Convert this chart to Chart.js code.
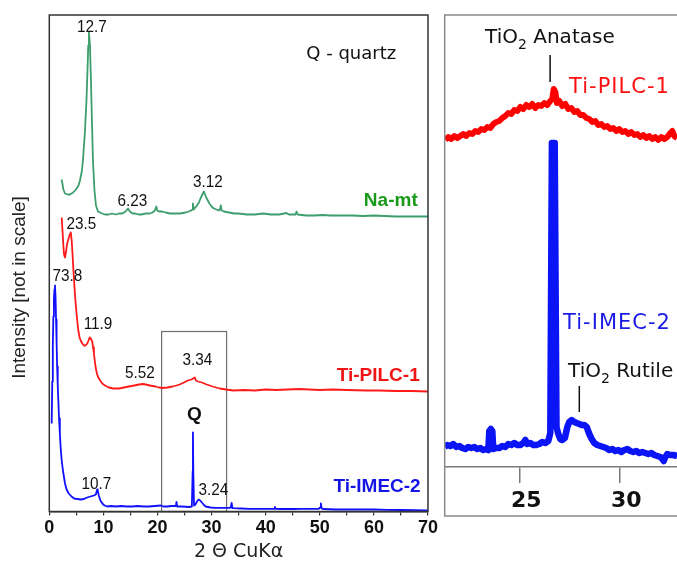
<!DOCTYPE html>
<html>
<head>
<meta charset="utf-8">
<script src="https://cdn.jsdelivr.net/npm/chart.js@4/dist/chart.umd.min.js"></script>
<style>
  html, body { margin: 0; padding: 0; background: #fff; overflow: hidden; }
  #wrap { position: relative; width: 677px; height: 563px; }
  #xrdFull { position: absolute; left: 0; top: 0; }
  #xrdZoom { position: absolute; left: 440px; top: 0; }
</style>
</head>
<body>
<div id="wrap">
  <canvas id="xrdFull" width="440" height="563"></canvas>
  <canvas id="xrdZoom" width="237" height="563"></canvas>
</div>
<script>
// ---- Full-range patterns (2θ in degrees, stacked intensity in arbitrary units) ----
const naMtTheta = [2.29,2.6,2.9,3.4,3.82,4.4,4.93,5.4,5.67,6.0,6.22,6.6,6.87,7.06,7.2,7.33,7.52,7.7,7.88,8.07,8.35,8.63,9.0,9.4,9.75,10.3,11.0,11.6,12.3,12.9,13.5,14.1,14.55,14.9,15.4,15.9,16.5,17.0,17.8,18.5,19.1,19.5,19.78,19.95,20.3,20.9,21.5,22.3,23.3,24.2,25.2,25.8,26.2,26.45,26.55,26.7,27.0,27.3,27.65,27.95,28.3,28.57,28.8,29.0,29.3,29.6,30.0,30.4,30.9,31.3,31.55,31.7,31.85,32.3,33.2,34.2,35.0,36.5,38.0,39.5,41.0,42.5,43.85,44.3,45.5,45.7,45.9,47.5,49.0,50.5,52.0,54.0,56.0,58.0,60.0,62.0,64.0,66.0,68.0,70.0];
const naMtInt = [332,322,318,317,317,319,322,326,331,340,351,381,411,441,466,479,466,431,391,351,321,306,300,299,298,297,297,298,297,298,298,300,303,300,298,298,297,297,298,298,299,301,305,301,300,300,299,298,298,298,299,300,301,302,308,302,304,306,309,313,317,320,317,314,311,308,305,303,302,301,302,306,301,300,299,298,298,297,297,298,297,297,298.5,297,297,300,297,296,296,296.5,296,296,296,295.5,296,295.5,295,295,295,295];

const pilcTheta = [2.29,2.45,2.6,2.72,2.9,3.1,3.3,3.62,3.85,3.98,4.15,4.3,4.45,4.61,4.8,4.99,5.2,5.36,5.6,5.8,6.1,6.41,6.7,7.02,7.25,7.46,7.65,7.94,8.1,8.25,8.4,8.57,8.8,9.05,9.4,9.78,10.3,11.0,11.8,12.9,13.8,14.7,15.7,16.6,17.3,17.8,18.6,19.6,20.3,20.9,21.8,22.8,23.5,24.1,24.9,25.6,26.3,26.6,26.9,27.1,27.5,28.2,29.1,30.2,31.5,32.7,34.0,36.0,38.0,40.0,42.0,44.0,46.3,48.0,50.0,52.4,55.0,58.6,61.0,64.0,67.0,70.0];
const pilcInt = [294,280,266,257,254,260,268,274,278,279,270,257,242,228,213,201,189,181,174,171,168,166,166,168,171,174,173,170,164,158,151,144,138,134,131,128,126,124,123,123,124,125,126,127,127.5,127,126,125,124,123.5,124,125,126,127,129,131,132,133,134,131,130,129,127,125,123,122,121,121.5,121,122,121.5,122,122.5,122,121.5,122,121.5,121,121,120.5,120.5,120];

const imecTheta = [0.44,0.55,0.65,0.75,0.85,0.95,1.05,1.15,1.25,1.35,1.45,1.56,1.67,1.8,1.95,2.1,2.29,2.55,2.9,3.2,3.6,4.1,4.6,5.2,5.8,6.4,7.0,7.6,8.25,8.6,8.85,8.95,9.15,9.45,9.8,10.2,10.7,11.5,12.3,13.3,14.3,15.3,16.3,17.4,18.4,19.5,20.6,21.1,21.8,22.6,23.4,23.5,23.65,24.5,25.8,26.35,26.5,26.55,26.62,26.75,27.0,27.3,27.6,27.9,28.2,28.6,28.9,29.8,30.7,31.8,33.2,33.55,33.7,33.85,34.1,35.5,36.9,39.0,41.0,41.6,41.7,41.85,43.0,45.0,46.5,48.0,49.8,50.05,50.2,50.35,50.6,53.0,55.0,57.5,60.0,62.5,65.0,67.5,70.0];
const imecInt = [88,130,165,195,212,222,226,215,192,168,145,126,111,93,78,64,51,40,28,22,18,15,13,12.5,12,12.5,14,15,16,17,22,21,16,11,8,6,5,5.5,5,5.5,5,5,5.5,5,5,5.5,6,5,5,5.5,5.5,9.5,5,5,4.5,5,40,79,40,6,7,10,12,11,9,6.5,5,4,3.7,3.7,3.7,4,8.5,3.5,3.3,3,2.7,2.7,2.7,2.7,4.5,2.7,2.5,2.5,2.7,2.6,2.7,4,8,3,2.5,2,2,2,2,1.7,1.5,1.3,1];

// ---- Expanded 21–33° window ----
const zoomPilcTheta = [21.30,21.45,21.60,21.75,21.90,22.05,22.20,22.35,22.50,22.65,22.80,22.95,23.10,23.25,23.40,23.55,23.70,23.85,24.00,24.15,24.30,24.45,24.60,24.75,24.90,25.05,25.20,25.35,25.50,25.65,25.80,25.95,26.10,26.25,26.40,26.55,26.65,26.72,26.80,26.88,27.00,27.15,27.30,27.45,27.60,27.75,27.90,28.05,28.20,28.35,28.50,28.65,28.80,28.95,29.10,29.25,29.40,29.55,29.70,29.85,30.00,30.15,30.30,30.45,30.60,30.75,30.90,31.05,31.20,31.35,31.50,31.65,31.80,31.95,32.10,32.25,32.40,32.55,32.65,32.75,32.89];
const zoomPilcInt = [327,330,328,331,329,331,333,331,334,333,336,335,338,337,340,339,343,345,346,349,351,354,353,357,356,360,358,362,360,363,359,362,361,364,362,366,368,378,375,364,366,361,363,358,359,355,356,352,352,349,348,345,346,342,343,340,341,338,339,336,338,335,336,333,335,332,333,330,332,329,331,328,330,327,330,328,330,334,336,331,329];

const zoomImecTheta = [21.27,21.40,21.55,21.70,21.85,22.00,22.15,22.30,22.45,22.60,22.75,22.90,23.05,23.20,23.35,23.45,23.50,23.58,23.65,23.70,23.85,24.00,24.15,24.30,24.45,24.60,24.75,24.90,25.05,25.20,25.30,25.40,25.55,25.70,25.85,26.00,26.15,26.30,26.45,26.55,26.63,26.77,26.86,26.95,27.05,27.15,27.28,27.40,27.50,27.62,27.75,27.87,28.00,28.12,28.25,28.37,28.50,28.62,28.75,28.90,29.05,29.20,29.35,29.50,29.65,29.80,29.95,30.10,30.25,30.40,30.55,30.70,30.85,31.00,31.15,31.30,31.45,31.60,31.75,31.90,32.05,32.15,32.22,32.30,32.40,32.55,32.70,32.89];
const zoomImecInt = [20,22,21,23,20,21,19,18,20,19,20,18,19,17,18,17,36,38,36,18,19,19,21,20,23,22,24,22,22,24,27,23,24,22,22,23,25,24,26,34,324,324,40,33,28,27,29,40,45,47,45,44,43,42,42,40,33,28,24,22,21,20,19,17,18,16,17,15,17,18,16,15,16,14,15,14,13,14,12,11,10,8,6,10,13,12,12,11];

// ---- Axis ticks ----
const fullTicks = [0,5,10,15,20,25,30,35,40,45,50,55,60,65,70];
const fullTickLabels = ['0','','10','','20','','30','','40','','50','','60','','70'];
const zoomTicks = [25, 30];
const zoomTickLabels = ['25', '30'];

// window of the expanded view, marked as a box on the full pattern
const zoomWindow = [20.76, 32.77];
const zoomBoxTop = 180;

const SANS = '"Liberation Sans", Arial, sans-serif';
const VERD = '"DejaVu Sans", Verdana, sans-serif';

function toPairs(xs, ys) { return xs.map((v, i) => ({ x: v, y: ys[i] })); }

// peak d-spacings and sample names on the full pattern
const fullLabels = [
  { text: '12.7', at: [7.89, 484], font: '17px ' + SANS, color: '#111', squeeze: 0.9 },
  { text: '6.23', at: [15.37, 310], font: '17px ' + SANS, color: '#111', squeeze: 0.9 },
  { text: '3.12', at: [29.31, 329], font: '17px ' + SANS, color: '#111', squeeze: 0.9 },
  { text: '23.5', at: [5.95, 287], font: '17px ' + SANS, color: '#111', squeeze: 0.9 },
  { text: '73.8', at: [3.36, 235], font: '17px ' + SANS, color: '#111', squeeze: 0.9 },
  { text: '11.9', at: [9.0, 187], font: '17px ' + SANS, color: '#111', squeeze: 0.9 },
  { text: '5.52', at: [16.75, 138], font: '17px ' + SANS, color: '#111', squeeze: 0.9 },
  { text: '3.34', at: [27.37, 151], font: '17px ' + SANS, color: '#111', squeeze: 0.9 },
  { text: '10.7', at: [8.72, 27], font: '17px ' + SANS, color: '#111', squeeze: 0.9 },
  { text: '3.24', at: [30.33, 21.5], font: '17px ' + SANS, color: '#111', squeeze: 0.9 },
  { text: 'Q', at: [26.82, 97], font: 'bold 19px ' + SANS, color: '#111' },
  { text: 'Q - quartz', at: [55.82, 457.5], font: '18px ' + VERD, color: '#111' },
  { text: 'Na-mt', at: [68.1, 311], font: 'bold 19px ' + SANS, color: '#1a9a1a', align: 'right' },
  { text: 'Ti-PILC-1', at: [68.47, 136], font: 'bold 19px ' + SANS, color: '#f01414', align: 'right' },
  { text: 'Ti-IMEC-2', at: [68.65, 25], font: 'bold 19px ' + SANS, color: '#1414e6', align: 'right' }
];

const fullDecor = {
  id: 'fullDecor',
  beforeDatasetsDraw(chart) {
    const { ctx, scales: { x, y } } = chart;
    const x0 = x.getPixelForValue(zoomWindow[0]);
    const x1 = x.getPixelForValue(zoomWindow[1]);
    const yt = y.getPixelForValue(zoomBoxTop);
    const yb = y.getPixelForValue(0);
    ctx.save();
    ctx.strokeStyle = '#6e6e6e';
    ctx.lineWidth = 1.2;
    ctx.strokeRect(x0, yt, x1 - x0, yb - yt);
    ctx.restore();
  },
  afterDraw(chart) {
    const { ctx, chartArea: a, scales: { x, y } } = chart;
    ctx.save();
    ctx.strokeStyle = '#333';
    ctx.lineWidth = 1.5;
    ctx.strokeRect(a.left, a.top, a.right - a.left, a.bottom - a.top);

    ctx.textBaseline = 'middle';
    for (const L of fullLabels) {
      ctx.font = L.font;
      ctx.fillStyle = L.color;
      ctx.textAlign = L.align || 'center';
      const px = x.getPixelForValue(L.at[0]);
      const py = y.getPixelForValue(L.at[1]);
      if (L.squeeze) {
        ctx.fillText(L.text, px, py, ctx.measureText(L.text).width * L.squeeze);
      } else {
        ctx.fillText(L.text, px, py);
      }
    }

    // axis titles
    ctx.fillStyle = '#222';
    ctx.textAlign = 'center';
    ctx.font = '19px ' + VERD;
    ctx.fillText('2 \u0398 CuK\u03b1', (a.left + a.right) / 2, a.bottom + 41);

    ctx.save();
    ctx.translate(20, a.bottom - 224);
    ctx.rotate(-Math.PI / 2);
    ctx.font = '19px ' + SANS;
    ctx.fillText('Intensity [not in scale]', 0, 0);
    ctx.restore();
    ctx.restore();
  }
};

new Chart(document.getElementById('xrdFull'), {
  type: 'line',
  data: {
    datasets: [
      { label: 'Na-mt', data: toPairs(naMtTheta, naMtInt), borderColor: '#3c9e6c', borderWidth: 1.8 },
      { label: 'Ti-PILC-1', data: toPairs(pilcTheta, pilcInt), borderColor: '#ff1a1a', borderWidth: 1.8 },
      { label: 'Ti-IMEC-2', data: toPairs(imecTheta, imecInt), borderColor: '#1010ff', borderWidth: 1.8 }
    ]
  },
  options: {
    responsive: false,
    animation: false,
    devicePixelRatio: 1,
    layout: { padding: { left: 49.3, right: 12, top: 15, bottom: 0 } },
    elements: { point: { radius: 0 }, line: { tension: 0, borderJoinStyle: 'round' } },
    plugins: { legend: { display: false }, tooltip: { enabled: false } },
    scales: {
      x: {
        type: 'linear', min: 0, max: 70,
        afterBuildTicks: s => { s.ticks = fullTicks.map(v => ({ value: v })); },
        afterFit: s => { s.height = 51.5; },
        ticks: {
          autoSkip: false, maxRotation: 0, padding: 2,
          color: '#111', font: { family: SANS, size: 18, weight: 'bold' },
          callback: (v, i) => fullTickLabels[i]
        },
        grid: { drawOnChartArea: false, drawTicks: true, tickLength: 4, color: '#333', lineWidth: 1.2 },
        border: { display: true, color: '#333', width: 1.5 }
      },
      y: { type: 'linear', min: 0, max: 496.5, display: false }
    }
  },
  plugins: [fullDecor]
});

// ---- Expanded view annotations ----
const zoomLabels = [
  { parts: [['TiO', 0], ['2', 1], [' Anatase', 0]], at: [23.29, 424.3], size: 20, color: '#111' },
  { parts: [['Ti-PILC-1', 0]], at: [27.49, 374], size: 21, color: '#ff1010', spacing: 1 },
  { parts: [['Ti-IMEC-2', 0]], at: [27.19, 138], size: 21, color: '#1a1ae6', spacing: 1 },
  { parts: [['TiO', 0], ['2', 1], [' Rutile', 0]], at: [27.44, 90.5], size: 20, color: '#111' }
];
const phaseMarks = [
  { x: 26.54, from: 385, to: 412 },
  { x: 28.0, from: 55, to: 81 }
];

const zoomDecor = {
  id: 'zoomDecor',
  afterDraw(chart) {
    const { ctx, chartArea: a, scales: { x, y } } = chart;
    ctx.save();
    // panel frame: left, top and bottom edges
    ctx.strokeStyle = '#8a8a8a';
    ctx.lineWidth = 1.5;
    ctx.beginPath();
    ctx.moveTo(chart.width, a.top);
    ctx.lineTo(a.left, a.top);
    ctx.lineTo(a.left, a.bottom + 49);
    ctx.lineTo(chart.width, a.bottom + 49);
    ctx.stroke();

    // phase marker ticks
    ctx.strokeStyle = '#111';
    ctx.lineWidth = 1.5;
    for (const m of phaseMarks) {
      const px = x.getPixelForValue(m.x);
      ctx.beginPath();
      ctx.moveTo(px, y.getPixelForValue(m.from));
      ctx.lineTo(px, y.getPixelForValue(m.to));
      ctx.stroke();
    }

    ctx.textAlign = 'left';
    ctx.textBaseline = 'alphabetic';
    for (const L of zoomLabels) {
      let cx = x.getPixelForValue(L.at[0]);
      const by = y.getPixelForValue(L.at[1]);
      ctx.fillStyle = L.color;
      ctx.letterSpacing = (L.spacing || 0) + 'px';
      for (const [t, sub] of L.parts) {
        ctx.font = (sub ? Math.round(L.size * 0.68) : L.size) + 'px ' + VERD;
        ctx.fillText(t, cx, sub ? by + 6 : by);
        cx += ctx.measureText(t).width;
      }
      ctx.letterSpacing = '0px';
    }
    ctx.restore();
  }
};

new Chart(document.getElementById('xrdZoom'), {
  type: 'line',
  data: {
    datasets: [
      { label: 'Ti-PILC-1', data: toPairs(zoomPilcTheta, zoomPilcInt), borderColor: '#ff0000', borderWidth: 6 },
      { label: 'Ti-IMEC-2', data: toPairs(zoomImecTheta, zoomImecInt), borderColor: '#0a14f5', borderWidth: 6.5 }
    ]
  },
  options: {
    responsive: false,
    animation: false,
    devicePixelRatio: 1,
    layout: { padding: { left: 4.7, right: 0, top: 15, bottom: 0 } },
    elements: { point: { radius: 0 }, line: { tension: 0, borderJoinStyle: 'round', borderCapStyle: 'butt' } },
    plugins: { legend: { display: false }, tooltip: { enabled: false } },
    scales: {
      x: {
        type: 'linear', min: 21.27, max: 32.885,
        afterBuildTicks: s => { s.ticks = zoomTicks.map(v => ({ value: v })); },
        afterFit: s => { s.height = 96; },
        ticks: {
          autoSkip: false, maxRotation: 0, padding: 5, labelOffset: 7,
          color: '#111', font: { family: VERD, size: 22, weight: 'bold' },
          callback: (v, i) => zoomTickLabels[i]
        },
        grid: { drawOnChartArea: false, drawTicks: true, tickLength: 16, color: '#7a7a7a', lineWidth: 1.5 },
        border: { display: true, color: '#7a7a7a', width: 1.5 }
      },
      y: { type: 'linear', min: 0, max: 452, display: false }
    }
  },
  plugins: [zoomDecor]
});
</script>
</body>
</html>
